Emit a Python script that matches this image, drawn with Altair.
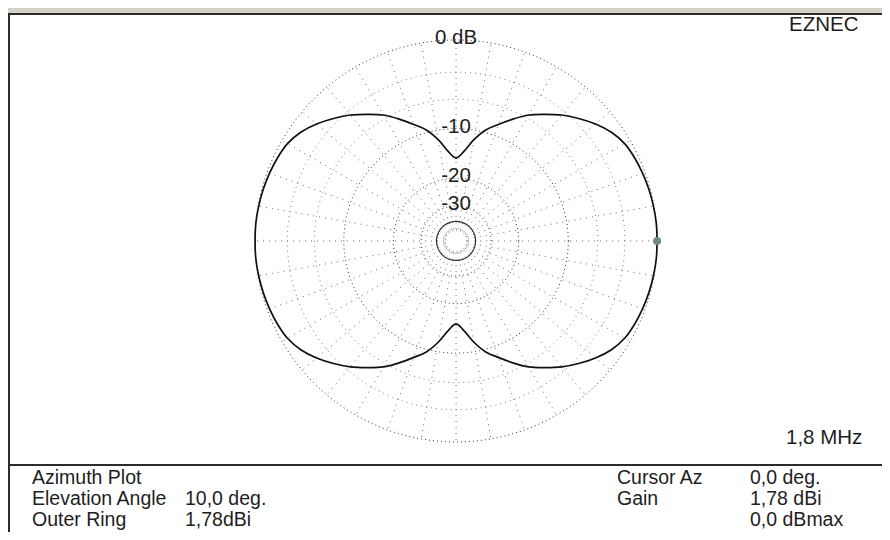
import altair as alt
import numpy as np
import pandas as pd

# ---- data ----
# azimuth pattern, first quadrant (deg, dB relative to max); pattern is symmetric
az_q = [0, 5, 10, 15, 20, 25, 30, 35, 40, 45, 50, 55, 60, 65, 70, 75, 80, 85, 90]
db_q = [0.0, 0.0, -0.05, -0.12, -0.22, -0.35, -0.55, -1.0, -1.7, -2.55, -3.45, -4.5,
        -5.55, -6.9, -8.3, -9.6, -11.5, -13.8, -15.2]

ring_db = [0, -3, -6, -10, -20, -30, -40, -50]
ring_style = ["dot", "light", "light", "dot", "dot", "dot", "solid", "dot"]
ring_labels = ["0 dB", "-10", "-20", "-30"]
ring_label_db = [0, -10, -20, -30]
spoke_deg = list(range(0, 360, 10))

cursor_az = [0]
cursor_db = [0.0]

left_labels = ["Azimuth Plot", "Elevation Angle", "Outer Ring"]
left_values = ["", "10,0 deg.", "1,78dBi"]
right_labels = ["Cursor Az", "Gain", ""]
right_values = ["0,0 deg.", "1,78 dBi", "0,0 dBmax"]
title_text = "EZNEC"
freq_text = "1,8 MHz"

# ---- build tables ----
az_full, db_full = [], []
for a, d in zip(az_q, db_q):
    az_full.append(a); db_full.append(d)
for a, d in zip(reversed(az_q[:-1]), reversed(db_q[:-1])):
    az_full.append(180 - a); db_full.append(d)
for a, d in zip(az_q[1:], db_q[1:]):
    az_full.append(180 + a); db_full.append(d)
for a, d in zip(reversed(az_q[:-1]), reversed(db_q[:-1])):
    az_full.append(360 - a); db_full.append(d)
pattern = pd.DataFrame({"az": az_full, "db": db_full})

ang = np.arange(0, 361, 2)
rings = pd.DataFrame([
    {"db": d, "style": s, "ang": float(t)}
    for d, s in zip(ring_db, ring_style) for t in ang
])
spokes = pd.DataFrame({"deg": spoke_deg})
rlab = pd.DataFrame({"label": ring_labels, "db": ring_label_db})
cursor = pd.DataFrame({"az": cursor_az, "db": cursor_db})

W, H = 874, 524
xs = alt.Scale(domain=[-2.229, 2.119], nice=False, zero=False)
ys = alt.Scale(domain=[-1.448, 1.159], nice=False, zero=False)
FONT = "Liberation Sans"
TXT = "#1e1e1e"

def X(f):
    return alt.X(f, type="quantitative", scale=xs, axis=None)

def Y(f):
    return alt.Y(f, type="quantitative", scale=ys, axis=None)

def polar(ch, az="az", db="db"):
    return ch.transform_calculate(
        r=f"pow(0.89, -datum.{db}/2)"
    ).transform_calculate(
        px=f"datum.r*cos(datum.{az}*PI/180)",
        py=f"datum.r*sin(datum.{az}*PI/180)",
    )

def ring_layer(style, **mk):
    return polar(alt.Chart(rings), az="ang").transform_filter(
        f"datum.style == '{style}'"
    ).mark_line(**mk).encode(
        x=X("px"), y=Y("py"),
        detail=alt.Detail("db", type="nominal"),
        order=alt.Order("ang", type="quantitative"))

ring_dot = ring_layer("dot", color="#333333", strokeWidth=1, strokeDash=[1, 3])
ring_light = ring_layer("light", color="#808080", strokeWidth=1, strokeDash=[1, 4])
ring_solid = ring_layer("solid", color="#333333", strokeWidth=1.2)

spoke_layer = alt.Chart(spokes).transform_calculate(
    x0="0.06*cos(datum.deg*PI/180)", y0="0.06*sin(datum.deg*PI/180)",
    x1="cos(datum.deg*PI/180)", y1="sin(datum.deg*PI/180)",
).mark_rule(color="#6a6a6a", strokeWidth=1, strokeDash=[1, 5]).encode(
    x=X("x0"), y=Y("y0"), x2=alt.X2("x1"), y2=alt.Y2("y1"))

pat = polar(alt.Chart(pattern)).mark_line(
    color="#111111", strokeWidth=1.7, interpolate="catmull-rom"
).encode(x=X("px"), y=Y("py"), order=alt.Order("az", type="quantitative"))

cur = polar(alt.Chart(cursor)).mark_circle(size=65, color="#6f8f78", opacity=1).encode(
    x=X("px"), y=Y("py"))

labs = alt.Chart(rlab).transform_calculate(
    py="pow(0.89, -datum.db/2)", px="0"
).mark_text(font=FONT, fontSize=20.5, color=TXT, dy=-2, baseline="middle").encode(
    x=X("px"), y=Y("py"), text=alt.Text("label", type="nominal"))

one = pd.DataFrame({"a": [0]})

def txt(s, x, y, size=19.5):
    return alt.Chart(one).mark_text(
        text=s, font=FONT, fontSize=size, color=TXT, align="left", baseline="middle"
    ).encode(x=alt.value(x), y=alt.value(y))

def rule(x, x2, y, y2, w=2, c="#2b2b2b"):
    return alt.Chart(one).mark_rule(color=c, strokeWidth=w).encode(
        x=alt.value(x), x2=alt.value(x2), y=alt.value(y), y2=alt.value(y2))

topbar = alt.Chart(one).mark_rect(color="#d4d0c8").encode(
    x=alt.value(0), x2=alt.value(W), y=alt.value(0), y2=alt.value(5))

texts = [txt(title_text, 781, 17, 20.5), txt(freq_text, 778, 430, 20.5)]
ys_rows = [470, 491, 512]
for i in range(3):
    if left_labels[i]:
        texts.append(txt(left_labels[i], 24, ys_rows[i]))
    if left_values[i]:
        texts.append(txt(left_values[i], 177, ys_rows[i]))
    if right_labels[i]:
        texts.append(txt(right_labels[i], 609, ys_rows[i]))
    if right_values[i]:
        texts.append(txt(right_values[i], 742, ys_rows[i]))

chart = alt.layer(
    spoke_layer, ring_light, ring_dot, ring_solid, pat, cur, labs,
    topbar, rule(0, W, 6, 6), rule(1, 1, 5, H), rule(0, W, 457, 457),
    *texts
).properties(
    width=W, height=H, autosize=alt.AutoSizeParams(type="none"), padding=0,
    background="white"
).configure_view(stroke=None)

chart.save("out.html", embed_options={"renderer": "svg", "actions": False})
